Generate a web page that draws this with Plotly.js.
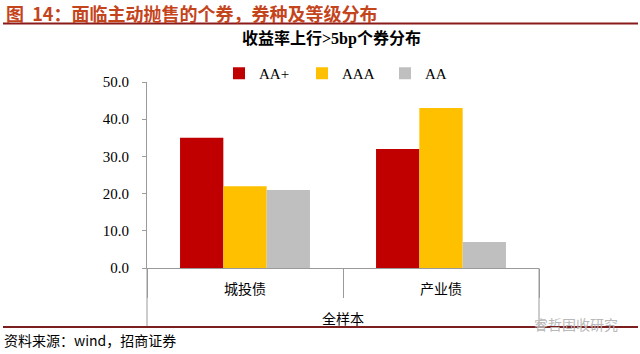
<!DOCTYPE html>
<html><head><meta charset="utf-8">
<script src="https://cdn.plot.ly/plotly-3.0.1.min.js"></script>
<style>html,body{margin:0;padding:0;background:#fff;}#chart{width:640px;height:354px;}</style>
</head><body><div id="chart"></div>
<script>
const categories = ['城投债', '产业债'];
const groupLabel = '全样本';
const seriesNames = ['AA+', 'AAA', 'AA'];
const valuesAAplus = [35.0, 32.0];
const valuesAAA = [22.0, 43.0];
const valuesAA = [21.0, 7.0];
const seriesColors = ['#C00000', '#FFC000', '#BFBFBF'];
const headerText = '图  14：面临主动抛售的个券，券种及等级分布';
const titleText = '收益率上行>5bp个券分布';
const sourceText = '资料来源：wind，招商证券';
const watermarkText = '睿哲固收研究';

const W = 640, H = 354;
const L = 147, R = 539, T = 82, B = 268;
const px = x => (x - L) / (R - L);
const py = y => (B - y) / (B - T);

const serif = '"Liberation Serif", "Noto Sans CJK SC", serif';
const cjk = '"Noto Sans CJK SC", sans-serif';

const seriesValues = [valuesAAplus, valuesAAA, valuesAA];
const traces = seriesNames.map((n, i) => ({
  type: 'bar', name: n, x: categories, y: seriesValues[i],
  marker: {color: seriesColors[i]}, hoverinfo: 'none'
}));

const gray = '#9a9a9a';
const layout = {
  width: W, height: H,
  margin: {l: L, r: W - R, t: T, b: H - B, pad: 0},
  paper_bgcolor: '#fff', plot_bgcolor: '#fff',
  barmode: 'group', bargap: 0.337, bargroupgap: 0,
  showlegend: true,
  legend: {orientation: 'h', x: px(219), xanchor: 'left', y: py(57), yanchor: 'top',
    font: {family: serif, size: 15, color: '#000'}, bgcolor: 'rgba(0,0,0,0)', itemwidth: 30,
    entrywidth: 38, entrywidthmode: 'pixels', traceorder: 'normal'},
  xaxis: {type: 'category', tickson: 'boundaries', ticks: 'outside', ticklen: 29, tickcolor: gray, tickwidth: 1,
    showline: true, linecolor: gray, linewidth: 1, showgrid: false, zeroline: false,
    ticklabelstandoff: 8,
    tickfont: {family: cjk, size: 14, color: '#000'}},
  yaxis: {range: [0, 50], dtick: 10, tickformat: '.1f', ticks: 'outside', ticklen: 4, tickcolor: gray,
    showline: true, linecolor: gray, linewidth: 1, showgrid: false, zeroline: false,
    ticklabelstandoff: 10,
    tickfont: {family: serif, size: 15, color: '#000'}},
  shapes: [
    {type: 'line', xref: 'paper', yref: 'paper', x0: 0, x1: 0, y0: 0, y1: py(326), line: {color: gray, width: 1}},
    {type: 'line', xref: 'paper', yref: 'paper', x0: 1, x1: 1, y0: 0, y1: py(326), line: {color: gray, width: 1}},
    {type: 'line', xref: 'paper', yref: 'paper', x0: px(3), x1: px(638), y0: py(23.5), y1: py(23.5), line: {color: '#8B1A1A', width: 2}},
    {type: 'line', xref: 'paper', yref: 'paper', x0: px(3), x1: px(638), y0: py(327), y1: py(327), line: {color: '#7A1E1E', width: 2}}
  ],
  annotations: [
    {text: headerText, xref: 'paper', yref: 'paper', x: px(4), y: py(13), xanchor: 'left', yanchor: 'middle', showarrow: false,
      font: {family: cjk, size: 18, color: '#C4441C', weight: 'bold'}},
    {text: '<b>' + titleText + '</b>', xref: 'paper', yref: 'paper', x: px(331), y: py(38), xanchor: 'center', yanchor: 'middle', showarrow: false,
      font: {family: serif, size: 16, color: '#000'}},
    {text: groupLabel, xref: 'paper', yref: 'paper', x: 0.5, y: py(318), xanchor: 'center', yanchor: 'middle', showarrow: false,
      font: {family: cjk, size: 14, color: '#000'}},
    {text: sourceText, xref: 'paper', yref: 'paper', x: px(2), y: py(340), xanchor: 'left', yanchor: 'middle', showarrow: false,
      font: {family: cjk, size: 14, color: '#000'}},
    {text: watermarkText, xref: 'paper', yref: 'paper', x: px(620), y: py(324), xanchor: 'right', yanchor: 'middle', showarrow: false,
      font: {family: cjk, size: 14, color: '#b8b8b8'}}
  ]
};
Plotly.newPlot('chart', traces, layout, {staticPlot: true, displayModeBar: false});
</script></body></html>
